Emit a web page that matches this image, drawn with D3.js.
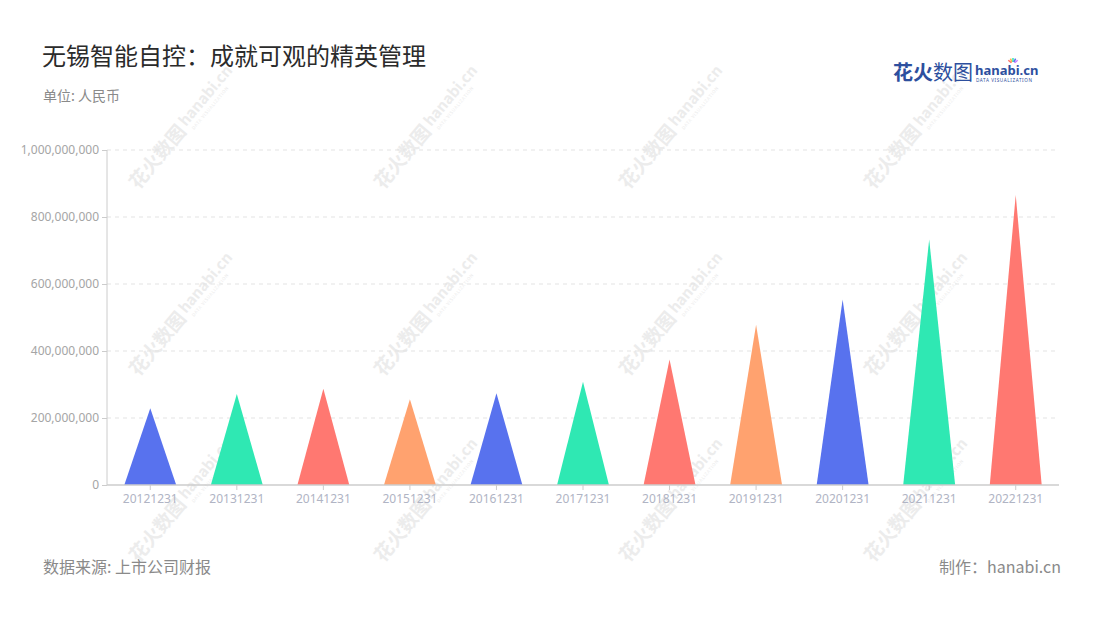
<!DOCTYPE html>
<html><head><meta charset="utf-8">
<script src="https://cdn.jsdelivr.net/npm/d3@7"></script>
<style>
body{margin:0;background:#fff;}
svg{display:block;font-family:"Noto Sans CJK SC","Noto Sans",sans-serif;}
</style></head>
<body><svg id="c" width="1100" height="620"></svg>
<script>
const categories = ["20121231","20131231","20141231","20151231","20161231","20171231","20181231","20191231","20201231","20211231","20221231"];
const values = [229000000,272000000,287000000,256000000,274000000,308000000,375000000,478000000,554000000,733000000,866000000];
const palette = ["#5872ee","#2fe8b3","#ff7871","#ffa26f"];
const yTicks = [0,200000000,400000000,600000000,800000000,1000000000];

const svg = d3.select("#c");
const m = {l:107, r:1059, t:150, b:485};

// watermarks
const wmX = [185,430,675,920], wmY = [125,312,498];
const wm = svg.append("g");
wmY.forEach(y=>wmX.forEach(x=>{
  const g = wm.append("g").attr("transform",`translate(${x},${y}) rotate(-50)`);
  g.append("text").attr("x",-4).attr("y",6).attr("text-anchor","end").attr("font-size",19).attr("font-weight",700).attr("fill","#ececec").text("花火数图");
  g.append("text").attr("x",-1).attr("y",2).attr("font-size",15).attr("font-weight",700).attr("fill","#ececec").text("hanabi.cn");
  g.append("text").attr("x",2).attr("y",10).attr("font-size",4.5).attr("fill","#ececec").attr("letter-spacing",0.6).text("DATA VISUALIZATION");
}));

const x = d3.scaleBand().domain(categories).range([m.l,m.r]).paddingInner(0.4).paddingOuter(0.2);
const y = d3.scaleLinear().domain([0,1000000000]).range([m.b,m.t]);

// grid
svg.append("g").selectAll("line").data(yTicks.filter(d=>d>0)).join("line")
  .attr("x1",m.l).attr("x2",m.r).attr("y1",d=>y(d)).attr("y2",d=>y(d))
  .attr("stroke","#e3e3e3").attr("stroke-dasharray","4,4");

// y axis
const ya = svg.append("g").attr("transform",`translate(${m.l},0)`)
  .call(d3.axisLeft(y).tickValues(yTicks).tickFormat(d3.format(",")).tickSize(5).tickPadding(3));
ya.select(".domain").attr("stroke","#cccccc").attr("d",`M0,${m.t}V${m.b}`);
ya.selectAll(".tick line").attr("stroke","#cccccc");
ya.selectAll(".tick text").attr("fill","#a5a5a5").attr("font-size",12).attr("font-family","'Noto Sans',sans-serif");

// bars (triangles)
svg.append("g").selectAll("path").data(categories).join("path")
  .attr("d",(c,i)=>{
    const x0 = x(c), x1 = x(c)+x.bandwidth(), xm = x(c)+x.bandwidth()/2;
    return `M${x0},${y(0)}L${xm},${y(values[i])}L${x1},${y(0)}Z`;
  })
  .attr("fill",(c,i)=>palette[i%4]);

// x axis
const xa = svg.append("g").attr("transform",`translate(0,${m.b})`)
  .call(d3.axisBottom(x).tickSize(5).tickPadding(4));
xa.select(".domain").attr("stroke","#cccccc").attr("stroke-width",1.5).attr("d",`M${m.l},0H${m.r}`);
xa.selectAll(".tick line").attr("stroke","#cccccc");
xa.selectAll(".tick text").attr("fill","#b0b4c4").attr("font-size",12).attr("font-family","'Noto Sans',sans-serif");

// titles
svg.append("text").attr("x",42).attr("y",65).attr("font-size",24).attr("fill","#2b2b2b").text("无锡智能自控：成就可观的精英管理");
svg.append("text").attr("x",43).attr("y",101).attr("font-size",14).attr("fill","#8a8a8a").text("单位: 人民币");
svg.append("text").attr("x",43).attr("y",573).attr("font-size",16).attr("fill","#8a8a8a").text("数据来源: 上市公司财报");
svg.append("text").attr("x",1061).attr("y",573).attr("text-anchor","end").attr("font-size",16).attr("fill","#8a8a8a").text("制作：hanabi.cn");

// logo
const lg = svg.append("g");
lg.append("text").attr("x",893).attr("y",80).attr("font-size",20).attr("font-weight",700).attr("fill","#2d4f9e").text("花火");
lg.append("text").attr("x",933).attr("y",80).attr("font-size",20).attr("fill","#2d4f9e").text("数图");
lg.append("text").attr("x",975).attr("y",75).attr("font-size",13).attr("font-weight",700).attr("fill","#2d4f9e").attr("font-family","'Noto Sans',sans-serif").text("hanabi.cn");
lg.append("text").attr("x",976).attr("y",82).attr("font-size",4.6).attr("fill","#2d4f9e").attr("letter-spacing",0.6).attr("font-family","'Noto Sans',sans-serif").text("DATA VISUALIZATION");
const sparks = ["#ff6f61","#ffb347","#2fe8b3","#5872ee","#c77dff"];
sparks.forEach((c,i)=>{
  const a = -Math.PI/2 + (i-2)*0.45;
  lg.append("line").attr("x1",1013+Math.cos(a)*2).attr("y1",64+Math.sin(a)*2)
    .attr("x2",1013+Math.cos(a)*6).attr("y2",64+Math.sin(a)*6).attr("stroke",c).attr("stroke-width",1.5);
});
</script></body></html>
